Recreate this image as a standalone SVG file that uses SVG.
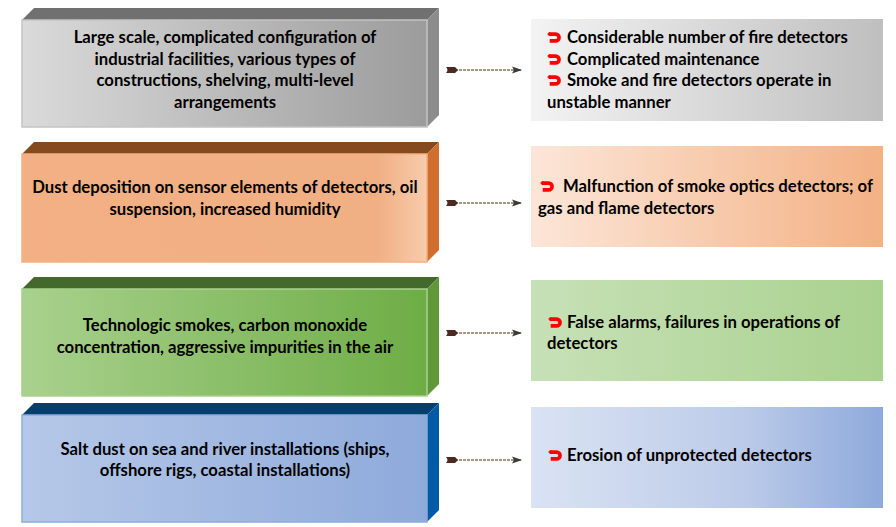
<svg xmlns="http://www.w3.org/2000/svg" width="896" height="527" viewBox="0 0 896 527">
<defs>
<linearGradient id="gGray" x1="0" x2="1" y1="0" y2="0"><stop offset="0" stop-color="#dadada"/><stop offset="1" stop-color="#9c9c9c"/></linearGradient>
<linearGradient id="gOrange" x1="0" x2="1" y1="0" y2="0"><stop offset="0" stop-color="#f2b084"/><stop offset="0.88" stop-color="#f1b084"/><stop offset="1" stop-color="#f7ccae"/></linearGradient>
<linearGradient id="gGreen" x1="0" x2="1" y1="0" y2="0"><stop offset="0" stop-color="#a9d18e"/><stop offset="1" stop-color="#6ead45"/></linearGradient>
<linearGradient id="gBlue" x1="0" x2="1" y1="0" y2="0"><stop offset="0" stop-color="#b6c8e8"/><stop offset="1" stop-color="#8eaadb"/></linearGradient>
<linearGradient id="rGray" x1="0" x2="1" y1="0" y2="0"><stop offset="0" stop-color="#f3f3f3"/><stop offset="1" stop-color="#bfbfbf"/></linearGradient>
<linearGradient id="rOrange" x1="0" x2="1" y1="0" y2="0"><stop offset="0" stop-color="#fce6d8"/><stop offset="1" stop-color="#f3b184"/></linearGradient>
<linearGradient id="rGreen" x1="0" x2="1" y1="0" y2="0"><stop offset="0" stop-color="#c7e1b7"/><stop offset="1" stop-color="#a9d18e"/></linearGradient>
<linearGradient id="rBlue" x1="0" x2="1" y1="0" y2="0"><stop offset="0" stop-color="#dae3f3"/><stop offset="0.6" stop-color="#bccbe9"/><stop offset="1" stop-color="#8eaadb"/></linearGradient>
<marker id="head" markerWidth="10" markerHeight="8" refX="9" refY="4" orient="auto" markerUnits="userSpaceOnUse"><path d="M0,0.5 L10,4 L0,7.5 L2,4 Z" fill="#3a3a3a"/></marker>
<marker id="tail" markerWidth="12" markerHeight="8" refX="1" refY="4" orient="auto" markerUnits="userSpaceOnUse"><path d="M0,1 L9,1 L12,4 L9,7 L0,7 L2,4 Z" fill="#4a2a22"/></marker>
<symbol id="bul" viewBox="0 0 13 10"><path d="M1.5,1.8 L8,1.8 A3.2,3.2 0 0 1 8,8.2 L2.5,8.2" fill="none" stroke="#ff0000" stroke-width="3.4"/><path d="M0,1.8 L3,-0.2 L3,3.8 Z" fill="#ff0000"/></symbol>
</defs>
<style>
.t{font-family:Lato,"Open Sans","Liberation Sans",sans-serif;font-weight:bold;font-size:16.7px;fill:#000}
.c{text-anchor:middle}
.con{stroke:#a39a7e;stroke-width:2;stroke-dasharray:3 1;fill:none}
</style>

<g id="left1">
<polygon points="22,20 34,8 439,8 427,20" fill="#707070"/>
<polygon points="427,20 439,8 439,115 427,127" fill="#8c8c8c"/>
<rect x="22" y="20" width="405" height="107" fill="url(#gGray)" stroke="#c4c4c4" stroke-width="1.5"/>
<text class="t c" x="225" y="43">Large scale, complicated configuration of</text>
<text class="t c" x="225" y="64.5">industrial facilities, various types of</text>
<text class="t c" x="225" y="86">constructions, shelving, multi-level</text>
<text class="t c" x="225" y="108">arrangements</text>
</g>

<g id="left2">
<polygon points="22,154 34,142 439,142 427,154" fill="#864a1f"/>
<polygon points="427,154 439,142 439,250 427,262" fill="#d06e2f"/>
<rect x="22" y="154" width="405" height="108" fill="url(#gOrange)" stroke="#f4b183" stroke-width="1.5"/>
<text class="t c" x="225" y="193">Dust deposition on sensor elements of detectors, oil</text>
<text class="t c" x="225" y="215">suspension, increased humidity</text>
</g>

<g id="left3">
<polygon points="22,289 34,277 439,277 427,289" fill="#44692c"/>
<polygon points="427,289 439,277 439,384 427,396" fill="#5f9739"/>
<rect x="22" y="289" width="405" height="107" fill="url(#gGreen)" stroke="#a9d18e" stroke-width="1.5"/>
<text class="t c" x="225" y="331">Technologic smokes, carbon monoxide</text>
<text class="t c" x="225" y="353">concentration, aggressive impurities in the air</text>
</g>

<g id="left4">
<polygon points="22,415 34,403 439,403 427,415" fill="#053f6d"/>
<polygon points="427,415 439,403 439,510 427,522" fill="#005ba6"/>
<rect x="22" y="415" width="405" height="107" fill="url(#gBlue)" stroke="#8eaadb" stroke-width="1.5"/>
<text class="t c" x="225" y="455">Salt dust on sea and river installations (ships,</text>
<text class="t c" x="225" y="476">offshore rigs, coastal installations)</text>
</g>

<g id="right1">
<rect x="531" y="19" width="352" height="102" fill="url(#rGray)"/>
<use href="#bul" x="547" y="32" width="14" height="11"/>
<text class="t" x="567" y="43">Considerable number of fire detectors</text>
<use href="#bul" x="547" y="54" width="14" height="11"/>
<text class="t" x="567" y="65">Complicated maintenance</text>
<use href="#bul" x="547" y="75" width="14" height="11"/>
<text class="t" x="567" y="86">Smoke and fire detectors operate in</text>
<text class="t" x="547" y="108">unstable manner</text>
</g>

<g id="right2">
<rect x="531" y="146" width="352" height="101" fill="url(#rOrange)"/>
<use href="#bul" x="540" y="181" width="14" height="11"/>
<text class="t" x="563" y="192">Malfunction of smoke optics detectors; of</text>
<text class="t" x="538" y="213.5">gas and flame detectors</text>
</g>

<g id="right3">
<rect x="531" y="280" width="352" height="101" fill="url(#rGreen)"/>
<use href="#bul" x="548" y="317" width="14" height="11"/>
<text class="t" x="567" y="328">False alarms, failures in operations of</text>
<text class="t" x="547" y="349">detectors</text>
</g>

<g id="right4">
<rect x="531" y="407" width="352" height="101" fill="url(#rBlue)"/>
<use href="#bul" x="548" y="450" width="14" height="11"/>
<text class="t" x="567" y="461">Erosion of unprotected detectors</text>
</g>

<g id="connectors">
<line class="con" x1="447" y1="70" x2="521" y2="70" marker-start="url(#tail)" marker-end="url(#head)"/>
<line class="con" x1="447" y1="203" x2="521" y2="203" marker-start="url(#tail)" marker-end="url(#head)"/>
<line class="con" x1="447" y1="333" x2="521" y2="333" marker-start="url(#tail)" marker-end="url(#head)"/>
<line class="con" x1="447" y1="460" x2="521" y2="460" marker-start="url(#tail)" marker-end="url(#head)"/>
</g>
</svg>
